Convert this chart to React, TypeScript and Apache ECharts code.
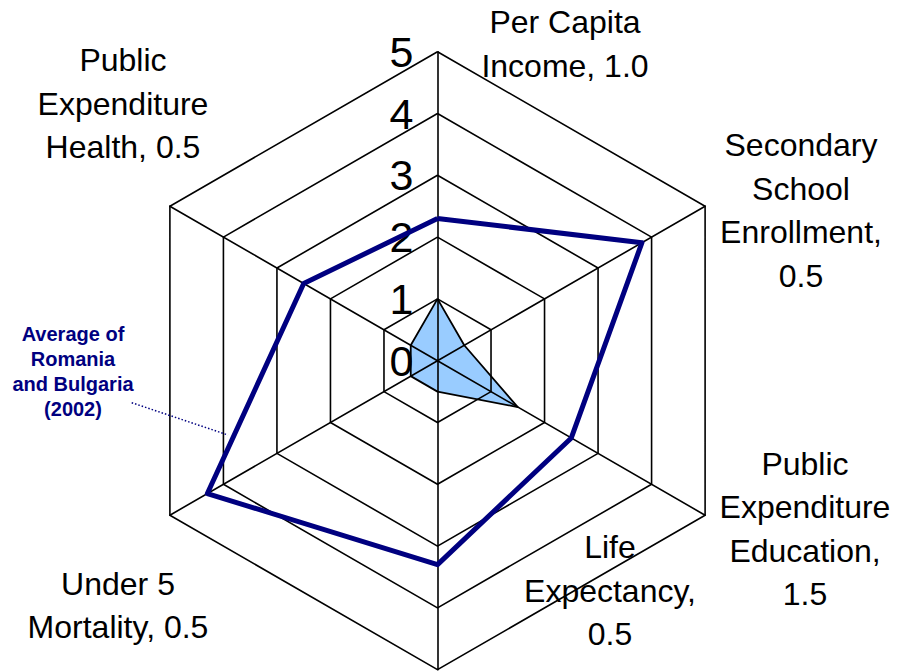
import React, { useEffect, useRef } from "react";
import * as echarts from "echarts";

// Categories in clockwise reading order starting at the top
const categories = [
  "Per Capita Income",
  "Secondary School Enrollment",
  "Public Expenditure Education",
  "Life Expectancy",
  "Under 5 Mortality",
  "Public Expenditure Health",
];
// Filled (light blue) series
const countryValues = [1.0, 0.5, 1.5, 0.5, 0.5, 0.5];
// Navy line: Average of Romania and Bulgaria (2002)
const averageValues = [2.3, 3.82, 2.5, 3.3, 4.3, 2.5];
const tickLabels = ["0", "1", "2", "3", "4", "5"];
const axisLabelTexts = [
  "Per Capita\nIncome, 1.0",
  "Secondary\nSchool\nEnrollment,\n0.5",
  "Public\nExpenditure\nEducation,\n1.5",
  "Life\nExpectancy,\n0.5",
  "Under 5\nMortality, 0.5",
  "Public\nExpenditure\nHealth, 0.5",
];
const annotationText = "Average of\nRomania\nand Bulgaria\n(2002)";

// layout (styles)
const CENTER = [437.5, 360.7];
const RADIUS = 309;
const labelPos = [
  [565, 0.3],
  [801, 123.6],
  [805, 442],
  [610, 525.3],
  [118, 562],
  [123, 38.6],
];

// ECharts radar places indicators counter-clockwise; reorder clockwise data
const ccwOrder = [0, 5, 4, 3, 2, 1];
const reorder = (arr: any[]) => ccwOrder.map((i) => arr[i]);

const FONT = "'Liberation Sans', Arial, Helvetica, sans-serif";

export default function App() {
  const ref = useRef<HTMLDivElement>(null);
  useEffect(() => {
    if (!ref.current) return;
    const chart = echarts.init(ref.current, undefined, { renderer: "svg" });
    const option: any = {
      animation: false,
      backgroundColor: "#ffffff",
      radar: {
        z: 2,
        center: CENTER,
        radius: RADIUS,
        startAngle: 90,
        shape: "polygon",
        splitNumber: 5,
        indicator: reorder(categories).map((name: string) => ({ name, min: 0, max: 5 })),
        axisName: { show: false },
        splitArea: { show: false },
        splitLine: { lineStyle: { color: "#000", width: 1.6 } },
        axisLine: { lineStyle: { color: "#000", width: 1.6 } },
        axisTick: { show: false },
        axisLabel: { show: false },
      },
      polar: { center: CENTER, radius: RADIUS },
      angleAxis: { show: false, startAngle: 90 },
      radiusAxis: {
        min: 0,
        max: 5,
        interval: 1,
        z: 1,
        axisLine: { show: false },
        axisTick: { show: false },
        splitLine: { show: false },
        axisLabel: {
          show: true,
          fontSize: 43,
          color: "#000",
          fontFamily: FONT,
          margin: 24,
          formatter: (v: number) => tickLabels[Math.round(v)],
        },
      },
      series: [
        {
          type: "radar",
          name: "Country",
          z: 1,
          symbol: "none",
          itemStyle: { color: "#99CCFF" },
          lineStyle: { width: 0, opacity: 0 },
          areaStyle: { color: "#99CCFF", opacity: 1 },
          data: [{ value: reorder(countryValues) }],
        },
        {
          type: "radar",
          name: "Country outline",
          z: 2.5,
          symbol: "none",
          itemStyle: { color: "#000" },
          lineStyle: { color: "#000", width: 1.8, opacity: 1 },
          data: [{ value: reorder(countryValues) }],
        },
        {
          type: "radar",
          name: "Average of Romania and Bulgaria (2002)",
          z: 3,
          symbol: "none",
          itemStyle: { color: "#000080" },
          lineStyle: { color: "#000080", width: 5 },
          data: [{ value: reorder(averageValues) }],
        },
      ],
      graphic: [
        ...axisLabelTexts.map((t, i) => ({
          type: "text",
          z: 10,
          style: {
            text: t,
            x: labelPos[i][0],
            y: labelPos[i][1],
            align: "center",
            verticalAlign: "top",
            font: `32px ${FONT}`,
            lineHeight: 43.5,
            fill: "#000",
          },
        })),
        {
          type: "text",
          z: 10,
          style: {
            text: annotationText,
            x: 73,
            y: 321,
            align: "center",
            verticalAlign: "top",
            font: `bold 20px ${FONT}`,
            lineHeight: 25,
            fill: "#000080",
          },
        },
        {
          type: "line",
          z: 10,
          shape: { x1: 131.7, y1: 402.7, x2: 228, y2: 435 },
          style: { stroke: "#000080", lineWidth: 1.5, lineDash: [1.5, 2] },
        },
      ],
    };
    chart.setOption(option);
    return () => chart.dispose();
  }, []);
  return (
    <div
      ref={ref}
      style={{ position: "fixed", left: 0, top: 0, width: 897, height: 671, background: "#fff" }}
    />
  );
}
